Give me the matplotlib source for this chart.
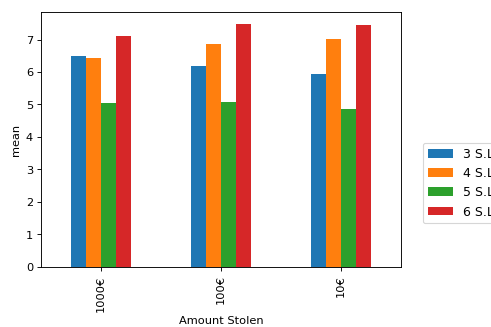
import numpy as np
import matplotlib
matplotlib.use('Agg')
import matplotlib.pyplot as plt

categories = ['1000€', '100€', '10€']
series_labels = ['3 S.L.', '4 S.L.', '5 S.L.', '6 S.L.']
values_3 = [6.50, 6.18, 5.95]
values_4 = [6.44, 6.87, 7.03]
values_5 = [5.04, 5.07, 4.86]
values_6 = [7.11, 7.48, 7.45]
colors = ['#1f77b4', '#ff7f0e', '#2ca02c', '#d62728']

dpi = 491 / 6
fig = plt.figure(figsize=(6, 4), dpi=dpi)
ax = fig.add_axes([0.0835, 0.1835, 0.7332, 0.7795])

x = np.arange(len(categories))
width = 0.125
all_series = [values_3, values_4, values_5, values_6]
for i, vals in enumerate(all_series):
    ax.bar(x + (i - 1.5) * width, vals, width, color=colors[i], label=series_labels[i])

ax.set_xlim(-0.5, 2.5)
ax.set_ylim(0, max(values_6) * 1.05)
ax.set_xticks(x)
ax.set_xticklabels(categories, rotation=90)
ax.set_xlabel('Amount Stolen')
ax.set_ylabel('mean')
ax.legend(loc='center left', bbox_to_anchor=(1.0437, 0.329), fontsize=11)

fig.savefig('out.png', dpi=dpi)
